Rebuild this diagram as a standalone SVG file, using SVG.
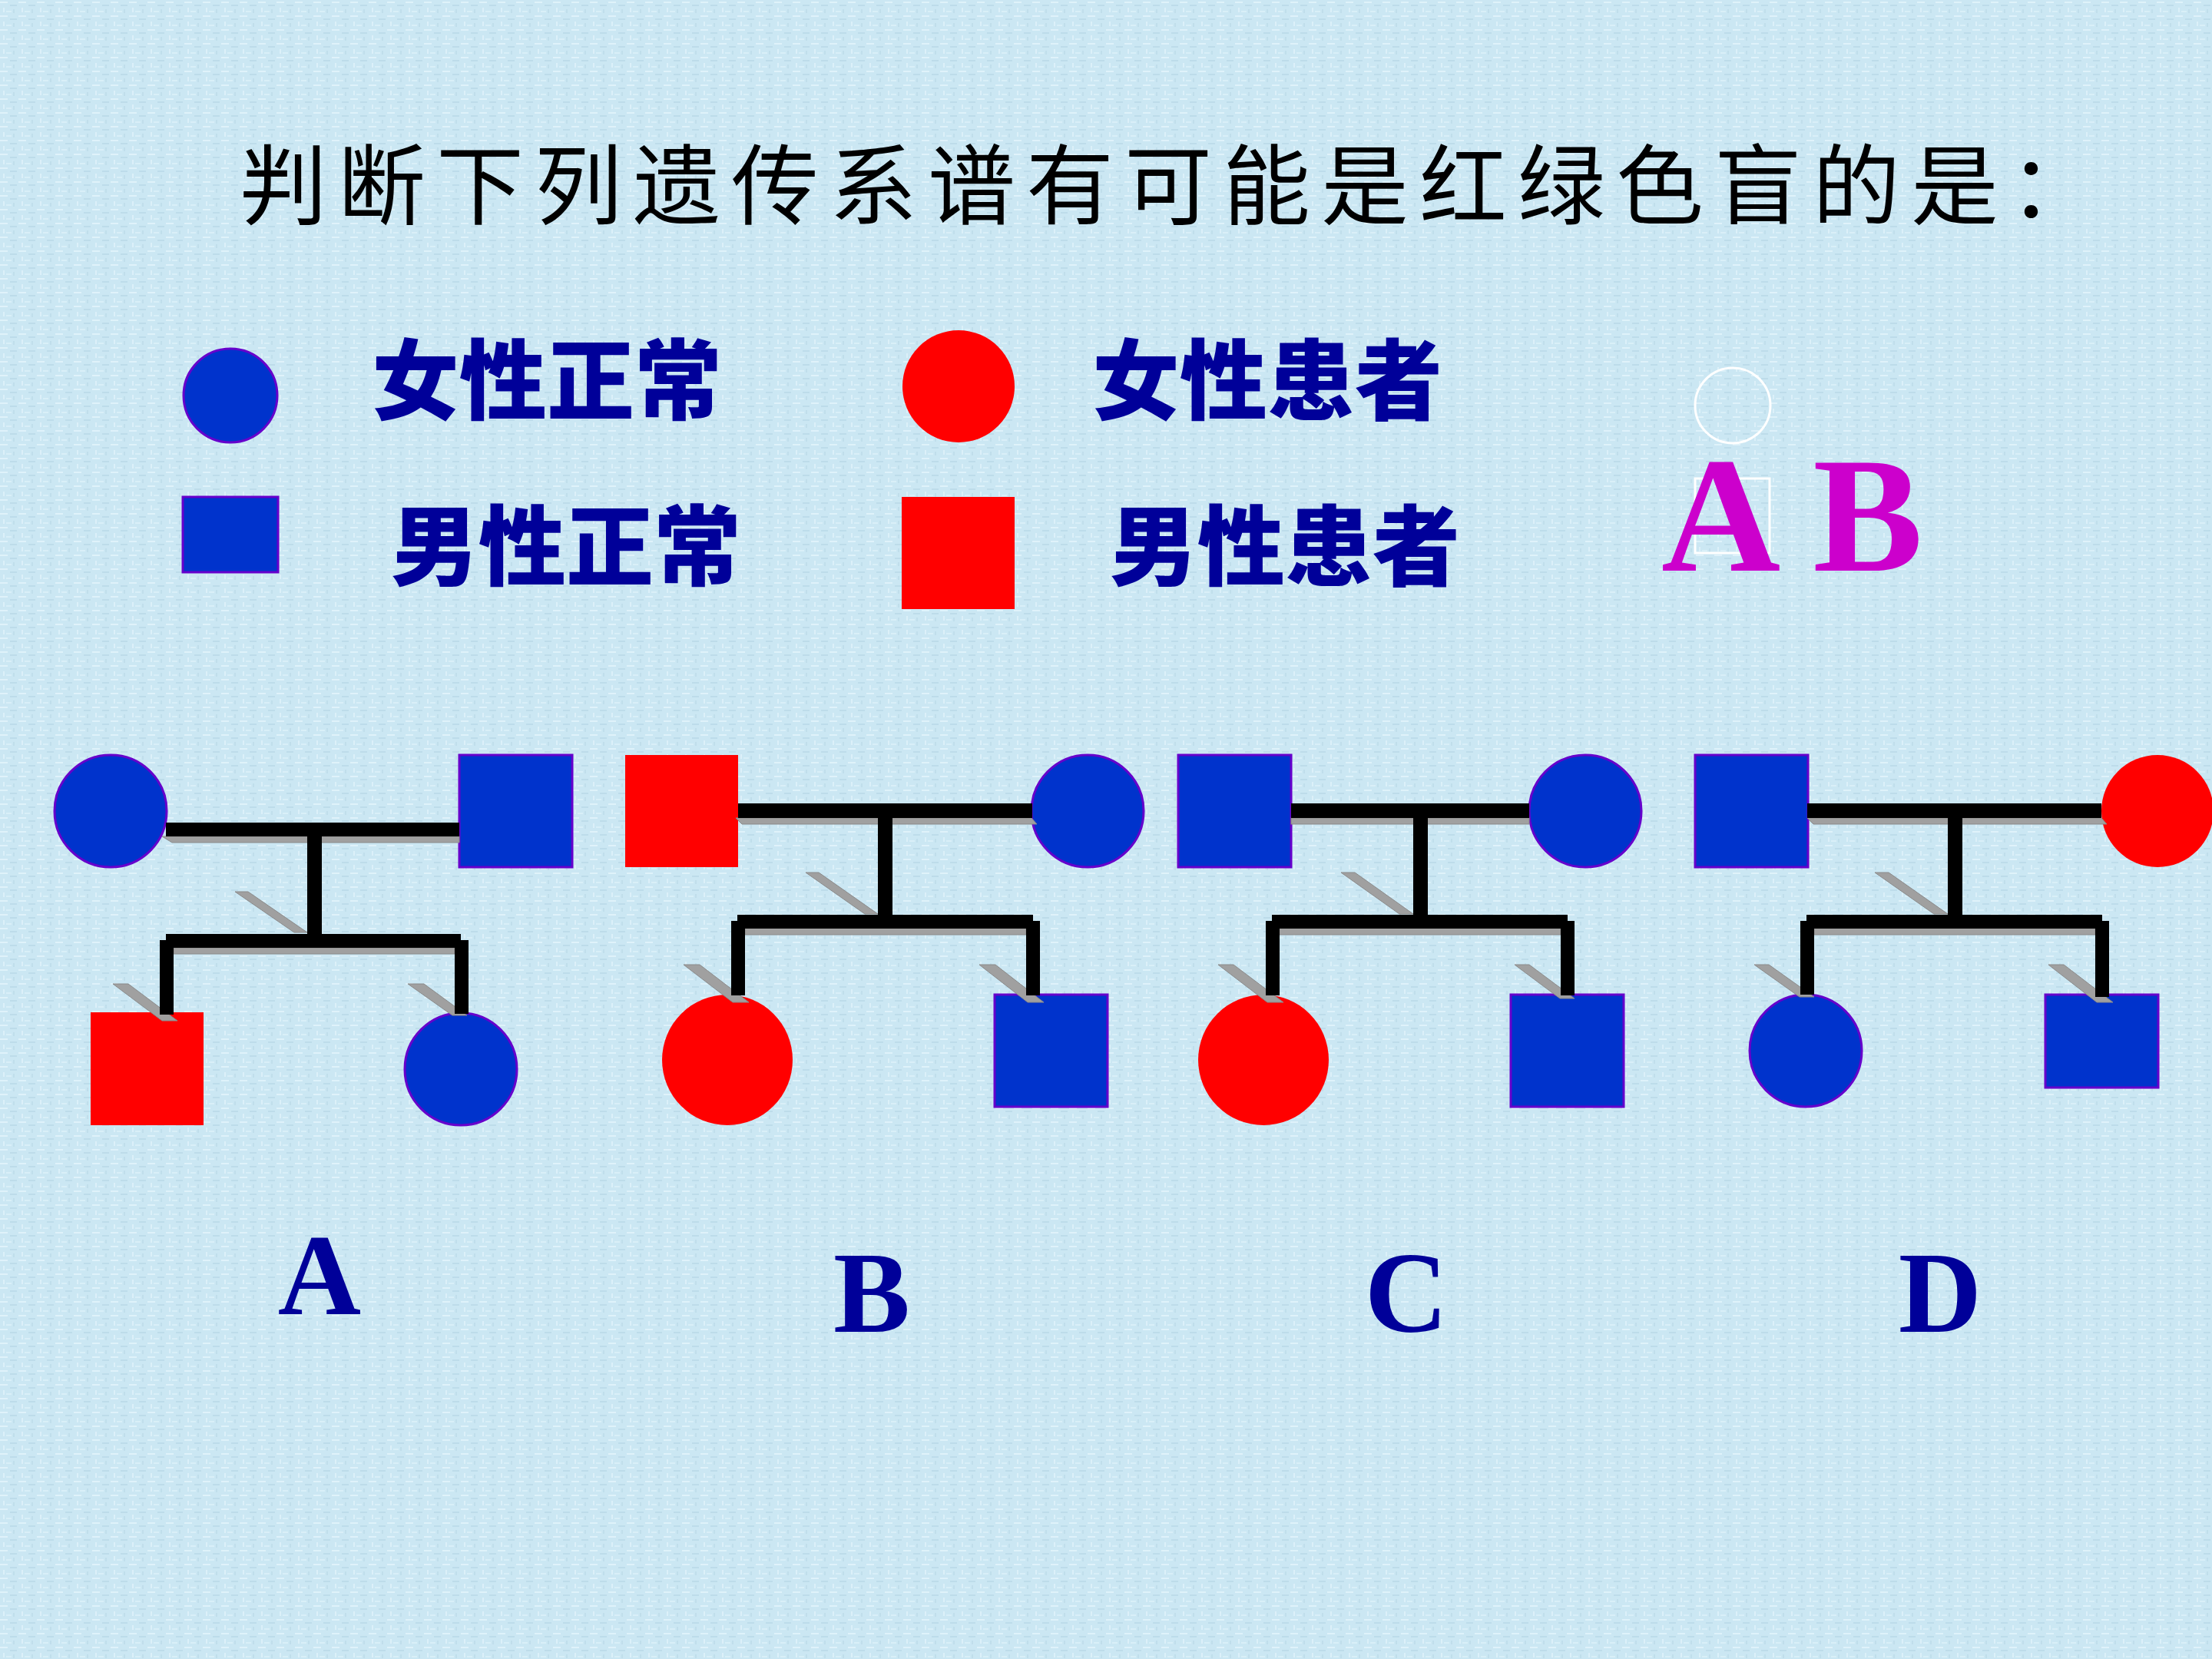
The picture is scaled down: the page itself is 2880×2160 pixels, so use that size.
<svg xmlns="http://www.w3.org/2000/svg" width="2880" height="2160" viewBox="0 0 2880 2160">
<defs>
<pattern id="tex" x="0" y="0" width="24" height="18" patternUnits="userSpaceOnUse">
  <rect x="0" y="0" width="24" height="18" fill="#cbe7f3"/>
  <rect x="0" y="2" width="10" height="2" fill="#dff2fa"/>
  <rect x="13" y="6" width="9" height="2" fill="#bddcea"/>
  <rect x="4" y="10" width="2" height="6" fill="#dcf0f9"/>
  <rect x="17" y="12" width="2" height="5" fill="#c0deeb"/>
  <rect x="8" y="14" width="7" height="2" fill="#d9eff8"/>
</pattern>
</defs>
<style>
.bg{fill:url(#tex)}
.fb{fill:#0033cc;stroke:#6600cc;stroke-width:3}
.fr{fill:#ff0000}
.ln{fill:#000000}
.sh{fill:#a0a0a0;stroke:#8a8a8a;stroke-width:1}
.title{font-family:"Noto Sans CJK SC","Noto Sans CJK TC",sans-serif;font-size:114px;fill:#000000;letter-spacing:14px}
.leg{font-family:"Noto Sans CJK SC","Noto Sans CJK TC",sans-serif;font-size:114px;font-weight:900;fill:#000099}
.lab{font-family:"Liberation Serif","Times New Roman",serif;font-size:150px;font-weight:bold;fill:#000099;text-anchor:middle}
.ab{font-family:"Liberation Serif","Times New Roman",serif;font-size:215px;font-weight:bold;fill:#cc00cc}
.wh{fill:none;stroke:#ffffff;stroke-width:3}
</style>
<rect class="bg" x="0" y="0" width="2880" height="2160"/>

<text id="title" class="title" x="312" y="283">判断下列遗传系谱有可能是红绿色盲的是：</text>

<g id="legend">
  <g id="leg-female-normal"><circle class="fb" cx="300" cy="515" r="61"/><text class="leg" x="484" y="537">女性正常</text></g>
  <g id="leg-male-normal"><rect class="fb" x="238" y="647" width="124" height="98"/><text class="leg" x="509" y="753">男性正常</text></g>
  <g id="leg-female-affected"><circle class="fr" cx="1248" cy="503" r="73"/><text class="leg" x="1422" y="537">女性患者</text></g>
  <g id="leg-male-affected"><rect class="fr" x="1174" y="647" width="147" height="146"/><text class="leg" x="1445" y="753">男性患者</text></g>
</g>

<g id="answer">
  <circle class="wh" cx="2256" cy="528" r="49"/>
  <rect class="wh" x="2207" y="623" width="97" height="97"/>
  <text class="ab" x="2163" y="743">A B</text>
</g>

<g id="nodes">
  <g id="A-mother"><circle class="fb" cx="144" cy="1056" r="73"/></g>
  <g id="A-father"><rect class="fb" x="598" y="983" width="147" height="146"/></g>
  <g id="A-son"><rect class="fr" x="118" y="1318" width="147" height="147"/></g>
  <g id="A-daughter"><circle class="fb" cx="600" cy="1392" r="73"/></g>

  <g id="B-father"><rect class="fr" x="814" y="983" width="147" height="146"/></g>
  <g id="B-mother"><circle class="fb" cx="1416" cy="1056" r="73"/></g>
  <g id="B-daughter"><circle class="fr" cx="947" cy="1380" r="85"/></g>
  <g id="B-son"><rect class="fb" x="1295" y="1295" width="147" height="146"/></g>

  <g id="C-father"><rect class="fb" x="1534" y="983" width="147" height="146"/></g>
  <g id="C-mother"><circle class="fb" cx="2064" cy="1056" r="73"/></g>
  <g id="C-daughter"><circle class="fr" cx="1645" cy="1380" r="85"/></g>
  <g id="C-son"><rect class="fb" x="1967" y="1295" width="147" height="146"/></g>

  <g id="D-father"><rect class="fb" x="2207" y="983" width="147" height="146"/></g>
  <g id="D-mother"><circle class="fr" cx="2809" cy="1056" r="73"/></g>
  <g id="D-daughter"><circle class="fb" cx="2351" cy="1368" r="73"/></g>
  <g id="D-son"><rect class="fb" x="2663" y="1295" width="147" height="121"/></g>
</g>

<g id="connectors">
  <!-- A -->
  <polygon class="sh" points="211,1089 598,1089 598,1097 224,1097"/>
  <polygon class="sh" points="306,1161 323,1161 400,1214 383,1214"/>
  <rect class="sh" x="226" y="1234" width="366" height="8"/>
  <polygon class="sh" points="147,1281 167,1281 231,1329 211,1329"/>
  <polygon class="sh" points="531,1281 552,1281 608,1322 589,1322"/>
  <rect class="ln" x="216" y="1071" width="382" height="18"/>
  <rect class="ln" x="400" y="1089" width="19" height="127"/>
  <rect class="ln" x="216" y="1216" width="384" height="18"/>
  <rect class="ln" x="208" y="1224" width="18" height="97"/>
  <rect class="ln" x="592" y="1224" width="18" height="96"/>

  <!-- B -->
  <polygon class="sh" points="958,1065 1343,1065 1350,1073 966,1073"/>
  <polygon class="sh" points="1049,1136 1066,1136 1143,1190 1126,1190"/>
  <rect class="sh" x="970" y="1208" width="366" height="9"/>
  <polygon class="sh" points="890,1256 911,1256 975,1305 954,1305"/>
  <polygon class="sh" points="1275,1256 1296,1256 1359,1305 1338,1305"/>
  <rect class="ln" x="961" y="1046" width="383" height="19"/>
  <rect class="ln" x="1143" y="1065" width="19" height="126"/>
  <rect class="ln" x="960" y="1191" width="385" height="18"/>
  <rect class="ln" x="952" y="1199" width="18" height="97"/>
  <rect class="ln" x="1336" y="1199" width="18" height="97"/>

  <!-- C -->
  <rect class="sh" x="1681" y="1065" width="310" height="8"/>
  <polygon class="sh" points="1746,1136 1764,1136 1840,1190 1822,1190"/>
  <rect class="sh" x="1665" y="1208" width="367" height="9"/>
  <polygon class="sh" points="1586,1256 1606,1256 1671,1305 1650,1305"/>
  <polygon class="sh" points="1972,1256 1991,1256 2050,1300 2031,1300"/>
  <rect class="ln" x="1681" y="1046" width="310" height="19"/>
  <rect class="ln" x="1840" y="1065" width="19" height="126"/>
  <rect class="ln" x="1656" y="1191" width="385" height="18"/>
  <rect class="ln" x="1648" y="1199" width="18" height="97"/>
  <rect class="ln" x="2032" y="1199" width="18" height="97"/>

  <!-- D -->
  <polygon class="sh" points="2353,1065 2736,1065 2743,1073 2361,1073"/>
  <polygon class="sh" points="2441,1136 2459,1136 2536,1190 2518,1190"/>
  <rect class="sh" x="2362" y="1208" width="366" height="9"/>
  <polygon class="sh" points="2284,1256 2303,1256 2362,1298 2343,1298"/>
  <polygon class="sh" points="2667,1256 2687,1256 2751,1305 2730,1305"/>
  <rect class="ln" x="2353" y="1046" width="383" height="19"/>
  <rect class="ln" x="2536" y="1065" width="19" height="126"/>
  <rect class="ln" x="2352" y="1191" width="385" height="18"/>
  <rect class="ln" x="2344" y="1199" width="18" height="96"/>
  <rect class="ln" x="2728" y="1199" width="18" height="99"/>
</g>

<g id="labels">
  <text class="lab" x="416" y="1711">A</text>
  <text class="lab" x="1135" y="1734">B</text>
  <text class="lab" x="1831" y="1734">C</text>
  <text class="lab" x="2526" y="1734">D</text>
</g>
</svg>
